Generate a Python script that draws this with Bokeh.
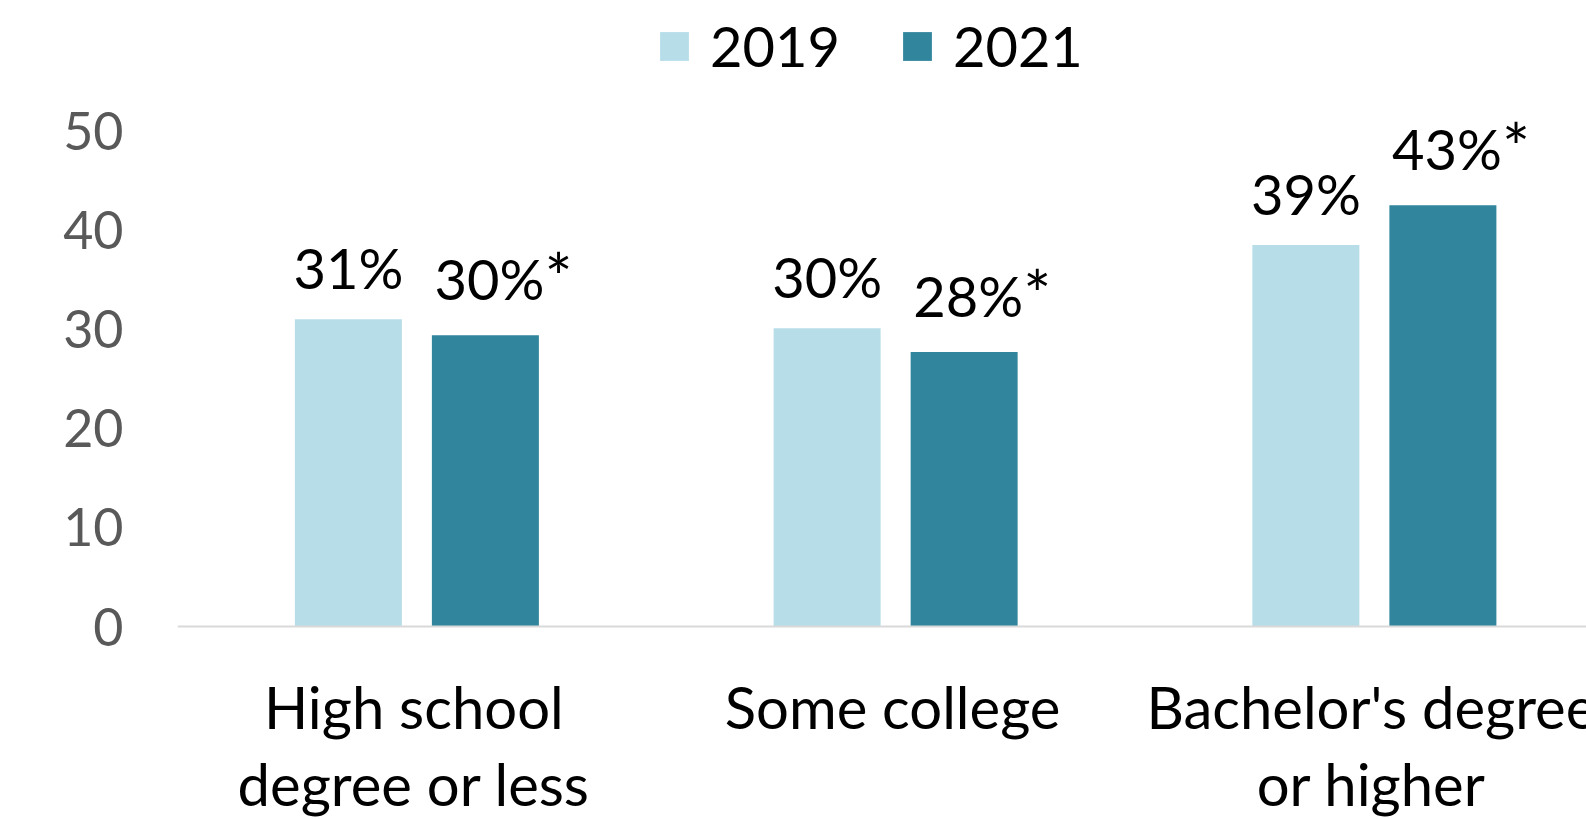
import numpy as np
from bokeh.plotting import figure
from bokeh.models import ColumnDataSource, Range1d, FixedTicker, LabelSet, Legend, LegendItem, Span
from bokeh.transform import dodge
from bokeh.core.properties import value
from bokeh.embed import file_html
from bokeh.resources import INLINE

# ---- data ----
categories = ["High school\ndegree or less", "Some college", "Bachelor's degree\nor higher"]
years = ["2019", "2021"]
values_2019 = [31.0, 30.1, 38.5]
values_2021 = [29.4, 27.7, 42.5]
labels_2019 = ["31%", "30%", "39%"]
labels_2021 = ["30%", "28%", "43%"]
stars_2021 = ["*", "*", "*"]
y_ticks = [0, 10, 20, 30, 40, 50]

# ---- style ----
FONT = "Lato"
C19 = "#B7DDE8"
C21 = "#31859C"

pos = np.arange(len(categories)) + 0.5
line1 = [c.split("\n")[0] for c in categories]
line2 = [c.split("\n")[1] if "\n" in c else "" for c in categories]
src = ColumnDataSource(dict(pos=pos, v19=values_2019, v21=values_2021,
                            l19=labels_2019, l21=labels_2021, s21=stars_2021,
                            c1=line1, c2=line2))

W, H = 1586, 819
LEFT = 177
PX_PER_CAT = 478.75
PX_PER_UNIT = 9.91
ZERO_FROM_BOTTOM = 193   # px from canvas bottom to the y=0 baseline
frame_w = W - LEFT

p = figure(width=W, height=H, output_backend="svg", toolbar_location=None,
           x_range=Range1d(0, frame_w / PX_PER_CAT),
           y_range=Range1d(-ZERO_FROM_BOTTOM / PX_PER_UNIT, (H - ZERO_FROM_BOTTOM) / PX_PER_UNIT),
           min_border_left=LEFT, min_border_right=0, min_border_top=0,
           min_border_bottom=0)
p.outline_line_color = None
p.xgrid.visible = False
p.ygrid.visible = False
p.xaxis.visible = False
p.background_fill_color = "white"
p.border_fill_color = "white"

# baseline
p.add_layout(Span(location=0, dimension="width", line_color="#D9D9D9", line_width=2))

OFF = 0.1431
BW = 0.2235
r19 = p.vbar(x=dodge("pos", -OFF), top="v19", width=BW, source=src,
             fill_color=C19, line_color=None)
r21 = p.vbar(x=dodge("pos", OFF), top="v21", width=BW, source=src,
             fill_color=C21, line_color=None)

lab_kw = dict(source=src, text_baseline="alphabetic",
              text_font=value(FONT), text_color="black")
p.add_layout(LabelSet(x=dodge("pos", -OFF), y="v19", text="l19", text_align="center",
                      y_offset=30, text_font_size="56px", **lab_kw))
p.add_layout(LabelSet(x=dodge("pos", OFF), y="v21", text="l21", text_align="center",
                      y_offset=35, x_offset=4, text_font_size="56px", **lab_kw))
p.add_layout(LabelSet(x=dodge("pos", OFF), y="v21", text="s21", text_align="left",
                      y_offset=33, x_offset=59, text_font_size="66px", **lab_kw))

# category labels below baseline
cat_kw = dict(source=src, x="pos", y=0, text_align="center", text_baseline="alphabetic",
              text_font_size="58px", text_font=value(FONT), text_color="black")
p.add_layout(LabelSet(text="c1", y_offset=-102, x_offset=-3, **cat_kw))
p.add_layout(LabelSet(text="c2", y_offset=-179, x_offset=-3, **cat_kw))

# y axis
p.yaxis.ticker = FixedTicker(ticks=y_ticks)
p.yaxis.axis_line_color = None
p.yaxis.major_tick_line_color = None
p.yaxis.minor_tick_line_color = None
p.yaxis.major_tick_out = 0
p.yaxis.major_tick_in = 0
p.yaxis.major_label_standoff = 54
p.yaxis.major_label_text_font = FONT
p.yaxis.major_label_text_font_size = "52px"
p.yaxis.major_label_text_color = "#595959"

legend = Legend(items=[LegendItem(label=years[0], renderers=[r19]),
                       LegendItem(label=years[1], renderers=[r21])],
                orientation="horizontal", location=(479, 740),
                glyph_width=36, glyph_height=36, label_standoff=18, spacing=59,
                padding=0, margin=0, border_line_color=None, background_fill_alpha=0,
                label_text_font=FONT, label_text_font_size="56px", label_text_color="black")
p.add_layout(legend)

open("out.html", "w").write(file_html(p, INLINE))
